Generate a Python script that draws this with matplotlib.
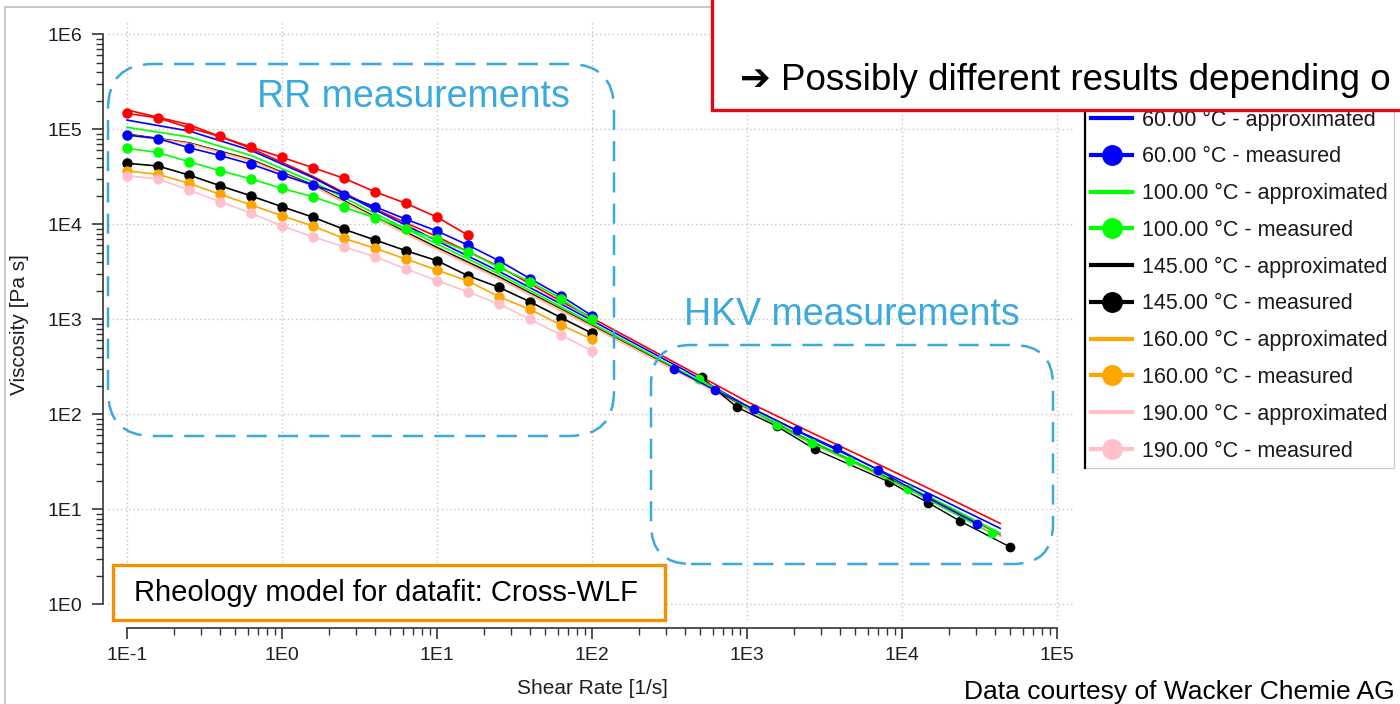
import numpy as np
import matplotlib
matplotlib.use("Agg")
import matplotlib.pyplot as plt
from matplotlib.lines import Line2D
from matplotlib.patches import Rectangle, FancyBboxPatch
from matplotlib.ticker import FixedLocator, FuncFormatter, NullFormatter

# rotational rheometer (RR) measurements, shear rate [1/s]
shear_rr = [0.1, 0.158, 0.251, 0.398, 0.631, 1.0, 1.58, 2.51, 3.98, 6.31,
            10, 15.8, 25.1, 39.8, 63.1, 100]
visc_rr_30 = [1.47e5, 1.32e5, 1.04e5, 8.4e4, 6.5e4, 5.07e4, 3.95e4, 3.05e4,
              2.2e4, 1.66e4, 1.19e4, 7.7e3]
visc_rr_60 = [8.7e4, 8.0e4, 6.4e4, 5.3e4, 4.3e4, 3.3e4, 2.6e4, 2.03e4,
              1.53e4, 1.13e4, 8.5e3, 6.05e3, 4.14e3, 2.68e3, 1.76e3, 1.09e3]
visc_rr_100 = [6.3e4, 5.7e4, 4.56e4, 3.67e4, 3.0e4, 2.39e4, 1.95e4, 1.51e4,
               1.17e4, 9.0e3, 6.95e3, 5.15e3, 3.52e3, 2.49e3, 1.65e3, 1.0e3]
visc_rr_145 = [4.39e4, 4.11e4, 3.3e4, 2.55e4, 1.99e4, 1.53e4, 1.19e4, 8.86e3,
               6.84e3, 5.27e3, 4.14e3, 2.88e3, 2.17e3, 1.53e3, 1.04e3, 713]
visc_rr_160 = [3.64e4, 3.36e4, 2.7e4, 2.07e4, 1.6e4, 1.23e4, 9.6e3, 7.1e3,
               5.6e3, 4.3e3, 3.3e3, 2.53e3, 1.73e3, 1.27e3, 871, 617]
visc_rr_190 = [3.25e4, 3.0e4, 2.3e4, 1.73e4, 1.31e4, 9.6e3, 7.4e3, 5.8e3,
               4.56e3, 3.38e3, 2.55e3, 1.95e3, 1.45e3, 1.0e3, 684, 464]

# high pressure capillary (HKV) measurements
shear_hkv_60 = [338, 622, 1110, 2090, 3800, 7000, 14400, 30600]
visc_hkv_60 = [300, 180, 113, 68, 43.7, 26, 13.4, 7.0]
shear_hkv_100 = [490, 1550, 2610, 4620, 11000, 37800]
visc_hkv_100 = [238, 77, 49.5, 32.5, 16.2, 5.6]
shear_hkv_145 = [509, 857, 1550, 2750, 8200, 14800, 23700, 50000]
visc_hkv_145 = [245, 119, 75, 42.8, 19.5, 11.7, 7.5, 4.0]

# Cross-WLF approximation
shear_fit = [0.1, 0.251, 0.631, 1.58, 3.98, 10, 25.1, 63.1, 158, 398,
             1000, 2510, 6310, 15800, 43000]
fit_30 = [1.6e5, 1.12e5, 6.3e4, 3.2e4, 1.45e4, 7.4e3, 3.6e3, 1.55e3, 690, 307,
          136, 66, 32.4, 15.8, 7.1]
fit_60 = [1.25e5, 9.6e4, 6.0e4, 3.1e4, 1.42e4, 6.7e3, 3.2e3, 1.45e3, 650, 290,
          122, 58, 28.5, 14, 6.3]
fit_100 = [1.05e5, 8.3e4, 5.3e4, 2.8e4, 1.3e4, 6.2e3, 3.0e3, 1.35e3, 610, 272,
           116, 54, 26.5, 13, 5.6]
fit_145 = [8.9e4, 7.2e4, 4.8e4, 2.6e4, 1.2e4, 5.7e3, 2.8e3, 1.28e3, 580, 262,
           113, 52, 25.5, 12.5, 5.3]
fit_160 = [8.8e4, 7.1e4, 4.7e4, 2.55e4, 1.17e4, 5.5e3, 2.7e3, 1.25e3, 570, 258,
           112, 51.5, 25.2, 12.3, 5.2]
fit_190 = [8.7e4, 7.0e4, 4.6e4, 2.5e4, 1.15e4, 5.4e3, 2.65e3, 1.22e3, 560, 255,
           111, 51, 25, 12.2, 5.2]

temps = ['60.00', '100.00', '145.00', '160.00', '190.00']
colors = ['blue', 'lime', 'black', 'orange', 'pink']

arial = ['Liberation Sans', 'DejaVu Sans']
light_blue = '#3AA9DE'
tick_color = '#1e1e2a'

W, H = 1400, 704
fig = plt.figure(figsize=(W / 100, H / 100), dpi=100)
ax = fig.add_axes([108 / W, 1 - 620 / H, 965 / W, 600 / H])
ax.set_xscale('log')
ax.set_yscale('log')
ax.set_xlim(10 ** -1.1226, 10 ** 5.1032)
ax.set_ylim(10 ** -0.1653, 10 ** 6.1505)

# fitted curves
ax.plot(shear_fit, fit_30, color='red', lw=1.2)
for fit, c in zip([fit_60, fit_100, fit_145, fit_160, fit_190], colors):
    ax.plot(shear_fit, fit, color=c, lw=1.2)

# measured RR
ax.plot(shear_rr[:len(visc_rr_30)], visc_rr_30, color='red', lw=1.2,
        marker='o', ms=6.5)
for vals, c in zip([visc_rr_60, visc_rr_100, visc_rr_145, visc_rr_160, visc_rr_190], colors):
    ax.plot(shear_rr, vals, color=c, lw=1.2, marker='o', ms=6.5)

# measured HKV
ax.plot(shear_hkv_145, visc_hkv_145, color='black', lw=1.0, marker='o', ms=6)
ax.plot(shear_hkv_100, visc_hkv_100, color='lime', lw=1.0, marker='o', ms=6)
ax.plot(shear_hkv_60, visc_hkv_60, color='blue', lw=1.0, marker='o', ms=6)

# axes styling
for s in ['top', 'right']:
    ax.spines[s].set_visible(False)
ax.spines['left'].set_position(('outward', 3.6))
ax.spines['bottom'].set_position(('outward', 5.8))
ax.spines['left'].set_bounds(1, 1e6)
ax.spines['bottom'].set_bounds(0.1, 1e5)
for s in ['left', 'bottom']:
    ax.spines[s].set_color('#333333')
    ax.spines[s].set_linewidth(1.2)

xmaj = [10.0 ** k for k in range(-1, 6)]
ymaj = [10.0 ** k for k in range(0, 7)]
xmin = [m * 10.0 ** k for k in range(-1, 5) for m in range(2, 10)]
ymin = [m * 10.0 ** k for k in range(0, 6) for m in range(2, 10)]
ax.xaxis.set_major_locator(FixedLocator(xmaj))
ax.yaxis.set_major_locator(FixedLocator(ymaj))
ax.xaxis.set_minor_locator(FixedLocator(xmin))
ax.yaxis.set_minor_locator(FixedLocator(ymin))
fmt = FuncFormatter(lambda v, p: '1E%d' % int(round(np.log10(v))))
ax.xaxis.set_major_formatter(fmt)
ax.yaxis.set_major_formatter(fmt)
ax.xaxis.set_minor_formatter(NullFormatter())
ax.yaxis.set_minor_formatter(NullFormatter())
ax.tick_params(which='major', length=7.9, width=1.2, labelsize=14,
               colors='#333333', labelcolor=tick_color)
ax.tick_params(which='minor', length=5, width=1.0, colors='#333333')
ax.tick_params(axis='y', which='major', pad=7)
ax.tick_params(axis='x', which='major', pad=6)
for lab in ax.get_xticklabels() + ax.get_yticklabels():
    lab.set_family(arial)
ax.grid(True, which='major', color='#c4c4c4', linestyle=(0, (1, 2)), lw=1)

fig.text(20 / W, 1 - 325 / H, 'Viscosity [Pa s]', rotation=90, ha='center',
         va='center', fontsize=15, family=arial, color=tick_color)
fig.text(592 / W, 1 - 689 / H, 'Shear Rate [1/s]', ha='center', va='center',
         fontsize=15, family=arial, color=tick_color)

# legend
handles = []
labels = []
for t, c in zip(temps, colors):
    handles.append(Line2D([], [], color=c, lw=3))
    labels.append(t + ' \u00b0C - approximated')
    handles.append(Line2D([], [], color=c, lw=3, marker='o', ms=14))
    labels.append(t + ' \u00b0C - measured')
leg = fig.legend(handles, labels, loc='lower left',
                 bbox_to_anchor=(1085 / W, 1 - 468 / H), borderaxespad=0,
                 fancybox=False, framealpha=1, edgecolor='#cfcfcf',
                 prop={'family': arial, 'size': 15.5}, labelspacing=0.73,
                 handlelength=1.9, handletextpad=0.45, borderpad=0.3)
leg.set_zorder(8)
for txt in leg.get_texts():
    txt.set_color('#1a1a1a')
fig.add_artist(Line2D([1085 / W, 1085 / W], [1 - 468 / H, 1 - 95 / H],
                      color='black', lw=1.6, zorder=9))

inch = fig.dpi_scale_trans

# gray frame around the chart
fig.add_artist(Rectangle((0.05, -0.2), 14.5, 7.17, transform=inch, fill=False,
                         edgecolor='#bdbdbd', lw=1.2, zorder=1))

# dashed rounded boxes
fig.add_artist(FancyBboxPatch((1.08, 2.68), 5.06, 3.72, transform=inch,
                              boxstyle='round,pad=0,rounding_size=0.45',
                              fill=False, edgecolor=light_blue, lw=1.8,
                              linestyle=(0, (8, 4.5)), zorder=6))
fig.add_artist(FancyBboxPatch((6.51, 1.40), 4.02, 2.19, transform=inch,
                              boxstyle='round,pad=0,rounding_size=0.4',
                              fill=False, edgecolor=light_blue, lw=1.8,
                              linestyle=(0, (8, 4.5)), zorder=6))
fig.text(413 / W, 1 - 97 / H, 'RR measurements', ha='center', va='center',
         fontsize=27, color=light_blue, family=arial, zorder=7)
fig.text(852 / W, 1 - 315 / H, 'HKV measurements', ha='center', va='center',
         fontsize=27, color=light_blue, family=arial, zorder=7)

# model box
fig.add_artist(Rectangle((1.13, 0.84), 5.52, 0.55, transform=inch,
                         facecolor='white', edgecolor='#F39200', lw=2.4,
                         zorder=7))
fig.text(134 / W, 1 - 593 / H, 'Rheology model for datafit: Cross-WLF',
         ha='left', va='center', fontsize=21, family=arial, zorder=8)

# red callout box on top (the slide cuts the sentence at the right edge)
fig.add_artist(Rectangle((7.12, 5.94), 7.2, 1.4, transform=inch,
                         facecolor='white', edgecolor='#E30613', lw=2.4,
                         zorder=10))
fig.text(740 / W, 1 - 80 / H, '\u2794 Possibly different results depending o',
         ha='left', va='center', fontsize=26.5, family=arial, zorder=11)

fig.text(1395 / W, 1 - 692 / H, 'Data courtesy of Wacker Chemie AG',
         ha='right', va='center', fontsize=19, family=arial)

fig.savefig('out.png', dpi=100)
